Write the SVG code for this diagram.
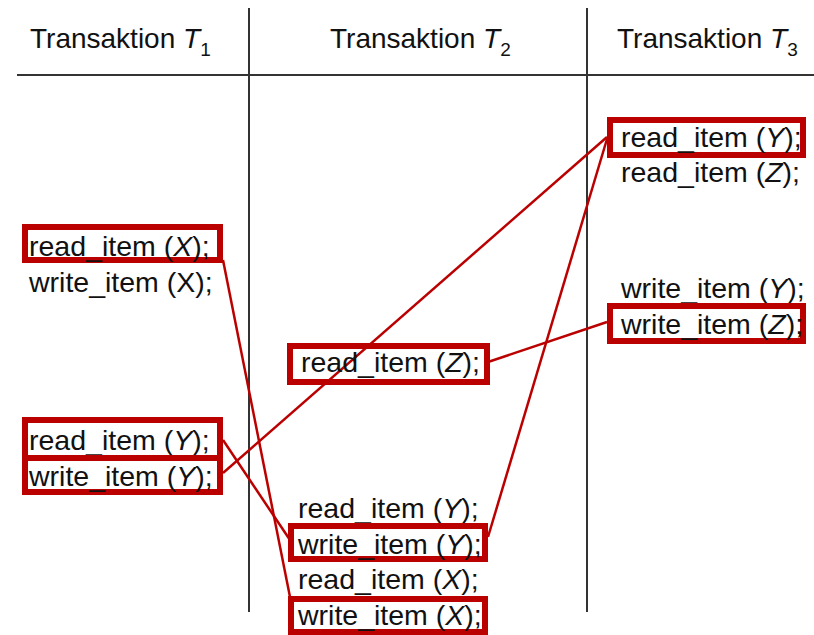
<svg xmlns="http://www.w3.org/2000/svg" width="814" height="635" viewBox="0 0 814 635">
<style>
text{font-family:"Liberation Sans",Arial,sans-serif;font-size:28.5px;fill:#111}
.h{font-size:28px}
.sub{font-size:19px}
.i{font-style:italic}
.box{fill:none;stroke:#bb0000;stroke-width:6}
.conn{stroke:#bb0000;stroke-width:2.5;fill:none}
.grid{stroke:#333;stroke-width:2;fill:none}
</style>
<rect width="814" height="635" fill="#fff"/>
<g id="table">
<line class="grid" x1="17" y1="75" x2="814" y2="75"/>
<line class="grid" x1="249" y1="8" x2="249" y2="612"/>
<line class="grid" x1="587" y1="8" x2="587" y2="612"/>
<text class="h" x="30" y="48">Transaktion <tspan class="i">T</tspan><tspan class="sub" dy="8">1</tspan></text>
<text class="h" x="330" y="48">Transaktion <tspan class="i">T</tspan><tspan class="sub" dy="8">2</tspan></text>
<text class="h" x="617" y="48">Transaktion <tspan class="i">T</tspan><tspan class="sub" dy="8">3</tspan></text>
</g>
<g id="connectors">
<line class="conn" x1="223" y1="260" x2="292" y2="607"/>
<line class="conn" x1="223" y1="440" x2="290" y2="540"/>
<line class="conn" x1="223" y1="473" x2="607" y2="137"/>
<line class="conn" x1="488" y1="362" x2="607" y2="322"/>
<line class="conn" x1="488" y1="537" x2="607" y2="139"/>
</g>
<g id="t1_read_x">
<rect class="box" x="25" y="227" width="195" height="33"/>
<text x="29" y="256">read_item (<tspan class="i">X</tspan>);</text>
</g>
<g id="t1_write_x">
<text x="29" y="292">write_item (X);</text>
</g>
<g id="t1_read_y">
<rect class="box" x="25" y="420" width="195" height="38"/>
<text x="29" y="450">read_item (<tspan class="i">Y</tspan>);</text>
</g>
<g id="t1_write_y">
<rect class="box" x="25" y="458" width="195" height="34"/>
<text x="29" y="486">write_item (<tspan class="i">Y</tspan>);</text>
</g>
<g id="t2_read_z">
<rect class="box" x="290" y="346" width="197" height="36"/>
<text x="301" y="372">read_item (<tspan class="i">Z</tspan>);</text>
</g>
<g id="t2_read_y">
<text x="298" y="518">read_item (<tspan class="i">Y</tspan>);</text>
</g>
<g id="t2_write_y">
<rect class="box" x="291" y="526" width="194" height="33"/>
<text x="298" y="554">write_item (<tspan class="i">Y</tspan>);</text>
</g>
<g id="t2_read_x">
<text x="298" y="589">read_item (<tspan class="i">X</tspan>);</text>
</g>
<g id="t2_write_x">
<rect class="box" x="291" y="599" width="194" height="33"/>
<text x="298" y="625">write_item (<tspan class="i">X</tspan>);</text>
</g>
<g id="t3_read_y">
<rect class="box" x="610" y="120" width="193" height="35"/>
<text x="621" y="147">read_item (<tspan class="i">Y</tspan>);</text>
</g>
<g id="t3_read_z">
<text x="621" y="182">read_item (<tspan class="i">Z</tspan>);</text>
</g>
<g id="t3_write_y">
<text x="621" y="298">write_item (<tspan class="i">Y</tspan>);</text>
</g>
<g id="t3_write_z">
<rect class="box" x="610" y="306" width="193" height="35"/>
<text x="621" y="334">write_item (<tspan class="i">Z</tspan>);</text>
</g>
</svg>
